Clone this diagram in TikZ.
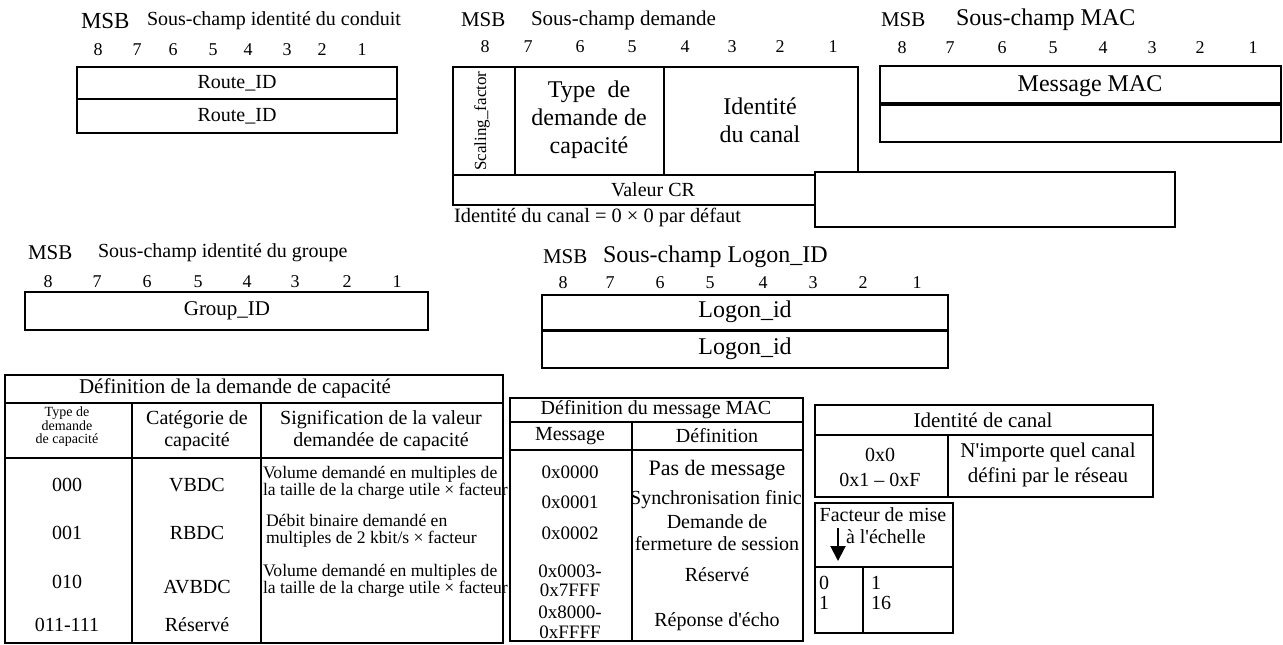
\documentclass[tikz,border=0pt]{standalone}
\usepackage{fontspec}
\setmainfont{Liberation Serif}
\usetikzlibrary{arrows.meta}
\begin{document}
\begin{tikzpicture}[
       x=0.5pt,
       y=-0.5pt,
       line width=1pt,
       titre/.style={
         inner sep=0pt,
         font=\fontsize{10.5}{12}\selectfont
       },
       bit/.style={
         inner sep=0pt,
         font=\fontsize{9}{10}\selectfont
       },
       champ/.style={
         inner sep=0pt,
         align=center,
         font=\fontsize{10}{11}\selectfont
       },
       grand/.style={
         inner sep=0pt,
         align=center,
         font=\fontsize{12}{14}\selectfont
       },
       petit/.style={
         inner sep=0pt,
         align=left,
         anchor=west,
         font=\fontsize{8.8}{8.6}\selectfont
       },
       fleche/.style={
         -{Triangle[width=7.5pt,length=7.5pt]}
       }
     ]

       \useasboundingbox (0,0) rectangle (1283,644);

       % identite du conduit
       \node (msb1) at (80,21) [titre,anchor=west,font=\fontsize{11.5}{12}\selectfont]{MSB};
       \node (sc1) at (146,21) [titre,anchor=west,font=\fontsize{10}{12}\selectfont]{Sous-champ identité du conduit};
       \node (cd8) at (98,50) [bit]{8};
       \node (cd7) at (137,50) [bit]{7};
       \node (cd6) at (173,50) [bit]{6};
       \node (cd5) at (213,50) [bit]{5};
       \node (cd4) at (248,50) [bit]{4};
       \node (cd3) at (287,50) [bit]{3};
       \node (cd2) at (322,50) [bit]{2};
       \node (cd1) at (362,50) [bit]{1};
       \draw (77,67) rectangle (397,133);
       \draw (77,99) -- (397,99);
       \node (route1) at (237,83) [champ]{Route\_ID};
       \node (route2) at (237,116) [champ]{Route\_ID};

       % demande
       \node (msb2) at (460,20) [titre,anchor=west]{MSB};
       \node (sc2) at (530,20) [titre,anchor=west]{Sous-champ demande};
       \node (dm8) at (485,47) [bit]{8};
       \node (dm7) at (528,47) [bit]{7};
       \node (dm6) at (580,47) [bit]{6};
       \node (dm5) at (632,47) [bit]{5};
       \node (dm4) at (685,47) [bit]{4};
       \node (dm3) at (732,47) [bit]{3};
       \node (dm2) at (780,47) [bit]{2};
       \node (dm1) at (833,47) [bit]{1};
       \draw (453,67) rectangle (858,175);
       \draw (515,67) -- (515,175);
       \draw (664,67) -- (664,175);
       \draw (453,175) rectangle (858,205);
       \draw[fill=white] (815,172) rectangle (1175,227);
       \node (scal) at (482,121) [inner sep=0pt,rotate=90,font=\fontsize{8.5}{10}\selectfont]{Scaling\_factor};
       \node (typ) at (589,120) [grand]{Type~~de\\demande de\\capacité};
       \node (idc) at (760,120) [grand]{Identité\\du canal};
       \node (cr) at (653,190) [champ]{Valeur CR};
       \node (defaut) at (453,217) [titre,anchor=west,font=\fontsize{10.2}{12}\selectfont]{Identité du canal = 0 × 0 par défaut};

       % MAC
       \node (msb3) at (880,20) [titre,anchor=west]{MSB};
       \node (sc3) at (955,20) [titre,anchor=west,font=\fontsize{12}{13}\selectfont]{Sous-champ MAC};
       \node (mac8) at (902,48) [bit]{8};
       \node (mac7) at (950,48) [bit]{7};
       \node (mac6) at (1002,48) [bit]{6};
       \node (mac5) at (1053,48) [bit]{5};
       \node (mac4) at (1103,48) [bit]{4};
       \node (mac3) at (1152,48) [bit]{3};
       \node (mac2) at (1200,48) [bit]{2};
       \node (mac1) at (1253,48) [bit]{1};
       \draw (880,66) rectangle (1281,142);
       \draw[line width=2pt] (880,104) -- (1281,104);
       \node (msgmac) at (1090,86) [grand]{Message MAC};

       % identite du groupe
       \node (msb4) at (27,253) [titre,anchor=west]{MSB};
       \node (sc4) at (97,253) [titre,anchor=west,font=\fontsize{10}{12}\selectfont]{Sous-champ identité du groupe};
       \node (gr8) at (48,282) [bit]{8};
       \node (gr7) at (97,282) [bit]{7};
       \node (gr6) at (147,282) [bit]{6};
       \node (gr5) at (198,282) [bit]{5};
       \node (gr4) at (247,282) [bit]{4};
       \node (gr3) at (295,282) [bit]{3};
       \node (gr2) at (347,282) [bit]{2};
       \node (gr1) at (397,282) [bit]{1};
       \draw (25,292) rectangle (428,330);
       \node (group) at (227,311) [titre]{Group\_ID};

       % Logon_ID
       \node (msb5) at (542,257) [titre,anchor=west]{MSB};
       \node (sc5) at (602,257) [titre,anchor=west,font=\fontsize{12}{13}\selectfont]{Sous-champ Logon\_ID};
       \node (lg8) at (563,283) [bit]{8};
       \node (lg7) at (610,283) [bit]{7};
       \node (lg6) at (660,283) [bit]{6};
       \node (lg5) at (710,283) [bit]{5};
       \node (lg4) at (763,283) [bit]{4};
       \node (lg3) at (813,283) [bit]{3};
       \node (lg2) at (863,283) [bit]{2};
       \node (lg1) at (917,283) [bit]{1};
       \draw (542,295) rectangle (948,368);
       \draw[line width=1.5pt] (542,330) -- (948,330);
       \node (logon1) at (745,312) [grand]{Logon\_id};
       \node (logon2) at (745,349) [grand]{Logon\_id};

       % definition de la demande de capacite
       \draw (5,375) rectangle (503,643);
       \draw (5,403) -- (503,403);
       \draw (5,458) -- (503,458);
       \draw (132,403) -- (132,643);
       \draw (261,403) -- (261,643);
       \node (dcap) at (235,388) [titre]{Définition de la demande de capacité};
       \node (htype) at (67,427) [champ,font=\fontsize{7}{6.8}\selectfont]{Type de\\demande\\de capacité};
       \node (hcat) at (197,431) [champ]{Catégorie de\\capacité};
       \node (hsig) at (381,431) [champ]{Signification de la valeur\\demandée de capacité};
       \node (t000) at (67,485) [champ]{000};
       \node (t001) at (67,533) [champ]{001};
       \node (t010) at (67,582) [champ]{010};
       \node (t011) at (67,625) [champ]{011-111};
       \node (vbdc) at (197,485) [champ]{VBDC};
       \node (rbdc) at (197,533) [champ]{RBDC};
       \node (avbdc) at (197,587) [champ]{AVBDC};
       \node (res1) at (197,625) [champ]{Réservé};
       \node (sig1) at (262,483) [petit]{Volume demandé en multiples de\\la taille de la charge utile × facteur};
       \node (sig2) at (265,531) [petit]{Débit binaire demandé en\\multiples de 2 kbit/s × facteur};
       \node (sig3) at (262,581) [petit]{Volume demandé en multiples de\\la taille de la charge utile × facteur};

       % definition du message MAC
       \draw (510,398) rectangle (803,641);
       \draw (510,422) -- (803,422);
       \draw (510,450) -- (803,450);
       \draw (632,422) -- (632,641);
       \node (dmac) at (656,410) [champ]{Définition du message MAC};
       \node (hmsg) at (570,436) [champ]{Message};
       \node (hdef) at (717,436) [champ]{Définition};
       \node (m0) at (570,472) [champ,font=\fontsize{9.5}{10}\selectfont]{0x0000};
       \node (m1) at (570,502) [champ,font=\fontsize{9.5}{10}\selectfont]{0x0001};
       \node (m2) at (570,533) [champ,font=\fontsize{9.5}{10}\selectfont]{0x0002};
       \node (m3) at (570,581) [champ,font=\fontsize{9.5}{9.5}\selectfont]{0x0003-\\0x7FFF};
       \node (m4) at (570,622) [champ,font=\fontsize{9.5}{10}\selectfont]{0x8000-\\0xFFFF};
       \node (d0) at (717,470) [champ,font=\fontsize{11}{12}\selectfont]{Pas de message};
       \node (d1) at (716,500) [champ]{Synchronisation finic};
       \node (d2) at (717,533) [champ]{Demande de\\fermeture de session};
       \node (d3) at (717,575) [champ]{Réservé};
       \node (d4) at (717,622) [champ]{Réponse d\textquotesingle écho};

       % identite de canal
       \draw (815,405) rectangle (1153,497);
       \draw (815,435) -- (1153,435);
       \draw (948,435) -- (948,497);
       \node (hcanal) at (983,420) [titre]{Identité de canal};
       \node (vcanal) at (880,467) [champ,font=\fontsize{10}{12.5}\selectfont]{0x0\\0x1 – 0xF};
       \node (ncanal) at (1048,465) [champ,font=\fontsize{10.5}{12.5}\selectfont]{N\textquotesingle importe quel canal\\défini par le réseau};

       % facteur de mise a l'echelle
       \draw (815,503) rectangle (953,633);
       \draw (815,567) -- (953,567);
       \draw (863,567) -- (863,633);
       \node (fact) at (883,515) [champ]{Facteur de mise};
       \node (echelle) at (845,537) [champ,anchor=west]{à l\textquotesingle échelle};
       \coordinate (fh) at (838,528);
       \coordinate (fb) at (838,561);
       \draw[fleche] (fh) -- (fb);
       \node (f0) at (824,583) [champ]{0};
       \node (f1) at (824,603) [champ]{1};
       \node (v1) at (870,583) [champ,anchor=west]{1};
       \node (v16) at (870,603) [champ,anchor=west]{16};

\end{tikzpicture}
\end{document}
